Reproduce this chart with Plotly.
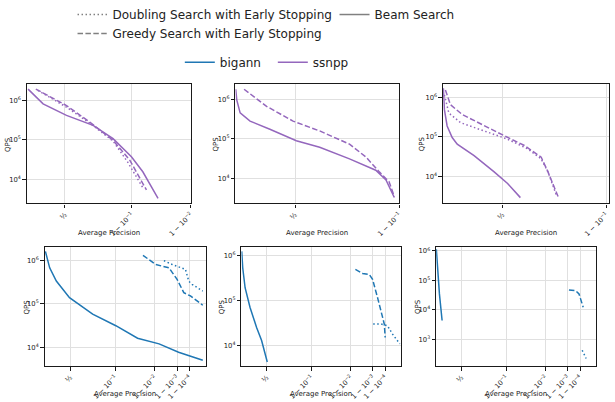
import numpy as np
import plotly.graph_objects as go

BLUE = "#1f77b4"
PURPLE = "#9467bd"
GRAY = "#808080"
FONT = "DejaVu Sans"
DASH = {"solid": "solid", "dash": "5.5px,2.4px", "dot": "1.5px,2.5px"}

# ---------------- data (average precision, QPS) ----------------
# top-left : ssnpp
tl_beam_p = [0.021, 0.245, 0.515, 0.726, 0.832, 0.899, 0.929, 0.958]
tl_beam_q = [1.91e6, 8.1e5, 4.15e5, 2.33e5, 1.08e5, 3.76e4, 1.58e4, 3.4e3]
tl_greedy_p = [0.142, 0.515, 0.704, 0.832, 0.894, 0.937]
tl_greedy_q = [1.91e6, 7.37e5, 2.82e5, 9.8e4, 3.1e4, 5.5e3]
tl_doubling_p = [0.171, 0.515, 0.704, 0.832, 0.887, 0.929]
tl_doubling_q = [1.78e6, 6.7e5, 2.66e5, 9.4e4, 2.8e4, 6.3e3]

# top-middle : ssnpp
tm_beam_p = [0.0032, 0.0137, 0.049, 0.147, 0.320, 0.508, 0.639, 0.766, 0.847, 0.872, 0.890]
tm_beam_q = [1.77e6, 9.6e5, 4.5e5, 2.81e5, 1.75e5, 9.0e4, 6.17e4, 3.17e4, 1.64e4, 9.3e3, 3.4e3]
tm_greedy_p = [0.089, 0.293, 0.487, 0.639, 0.766, 0.820, 0.856, 0.879, 0.890]
tm_greedy_q = [1.77e6, 6.6e5, 2.81e5, 1.59e5, 7.4e4, 3.5e4, 1.49e4, 8.4e3, 3.6e3]

# top-right : ssnpp
tr_beam_p = [0.003, 0.014, 0.0425, 0.094, 0.143, 0.293, 0.445, 0.532, 0.605]
tr_beam_q = [1.67e6, 4.85e5, 1.89e5, 9.7e4, 6.6e4, 3.4e4, 1.33e4, 6.8e3, 3.0e3]
tr_greedy_p = [0.0246, 0.0765, 0.190, 0.373, 0.512, 0.626, 0.705, 0.733, 0.771]
tr_greedy_q = [1.5e6, 6.45e5, 3.66e5, 1.89e5, 1.07e5, 6.1e4, 3.1e4, 1.33e4, 3.2e3]
tr_doubling_p = [0.014, 0.060, 0.175, 0.373, 0.532, 0.643, 0.705, 0.733, 0.764]
tr_doubling_q = [1.14e6, 4.0e5, 2.28e5, 1.42e5, 8.8e4, 5.0e4, 2.8e4, 1.33e4, 3.6e3]

# bottom-left : bigann
bl_beam_p = [0.017, 0.118, 0.259, 0.488, 0.757, 0.903, 0.968, 0.993, 0.9992, 0.9999999]
bl_beam_q = [1.6e6, 6.7e5, 3.33e5, 1.39e5, 5.8e4, 3.16e4, 1.63e4, 1.21e4, 7.8e3, 5.1e3]
bl_greedy_p = [0.977, 0.9907, 0.9973, 0.99901, 0.99966, 0.99992, 0.9999999]
bl_greedy_q = [1.3e6, 8.0e5, 6.7e5, 3.64e5, 1.81e5, 1.52e5, 9.3e4]
bl_doubling_p = [0.99548, 0.99813, 0.99975, 0.99988, 0.99995, 0.9999999]
bl_doubling_q = [9.8e5, 8.0e5, 6.2e5, 3.3e5, 2.8e5, 1.97e5]

# bottom-middle : bigann
bm_beam_p = [0.0075, 0.032, 0.089, 0.199, 0.329, 0.417, 0.506]
bm_beam_q = [1.22e6, 5.3e5, 1.91e5, 6.95e4, 2.52e4, 1.29e4, 4.3e3]
bm_greedy_p = [0.99316, 0.99656, 0.99838, 0.99895, 0.99951, 0.99973, 0.99987, 0.999895]
bm_greedy_q = [4.85e5, 3.96e5, 3.77e5, 2.92e5, 1.15e5, 5.9e4, 3.0e4, 1.51e4]
bm_doubling_p = [0.99904, 0.99973, 0.999943, 0.99999, 0.99999999]
bm_doubling_q = [3.0e4, 3.0e4, 2.75e4, 1.81e4, 1.09e4]

# bottom-right : bigann
br_beam_p = [0.005, 0.0417, 0.0795, 0.141]
br_beam_q = [1.14e6, 1.64e5, 3.5e4, 4.4e3]
br_greedy_p = [0.99917, 0.99973, 0.99987, 0.999958]
br_greedy_q = [4.75e4, 4.5e4, 3.5e4, 1.23e4]
br_doubling_p = [0.999943, 0.999985]
br_doubling_q = [430, 226]

# tick positions / labels on the precision axis
x_tick_p = [0.5, 0.9, 0.99, 0.999, 0.9999]
x_tick_text = ["½", "1 − 10<sup>−1</sup>", "1 − 10<sup>−2</sup>",
               "1 − 10<sup>−3</sup>", "1 − 10<sup>−4</sup>"]
y_tick_vals = [1e3, 1e4, 1e5, 1e6]
y_tick_text = ["10<sup>3</sup>", "10<sup>4</sup>", "10<sup>5</sup>", "10<sup>6</sup>"]


def tx(p):
    """precision -> axis coordinate (stretches the region near 1)."""
    return 1.0 - (1.0 - np.asarray(p, dtype=float)) ** 0.25


W, H = 615, 402

panels = [
    dict(color=PURPLE, curves=[(tl_doubling_p, tl_doubling_q, "dot"), (tl_beam_p, tl_beam_q, "solid"),
                               (tl_greedy_p, tl_greedy_q, "dash")],
         xd=(27, 192), yd=(82, 202), xmax=0.99, yr=(3.4, 6.4), nt=3, qx=8),
    dict(color=PURPLE, curves=[(tm_beam_p, tm_beam_q, "solid"), (tm_greedy_p, tm_greedy_q, "dash")],
         xd=(237, 402), yd=(82, 202), xmax=0.9, yr=(3.38, 6.37), nt=2, qx=217),
    dict(color=PURPLE, curves=[(tr_doubling_p, tr_doubling_q, "dot"), (tr_beam_p, tr_beam_q, "solid"),
                               (tr_greedy_p, tr_greedy_q, "dash")],
         xd=(446, 613), yd=(82, 202), xmax=0.905, yr=(3.33, 6.32), nt=2, qx=425),
    dict(color=BLUE, curves=[(bl_doubling_p, bl_doubling_q, "dot"), (bl_beam_p, bl_beam_q, "solid"),
                             (bl_greedy_p, bl_greedy_q, "dash")],
         xd=(45, 207), yd=(246, 366), xmax=1.0, yr=(3.57, 6.3), nt=5, qx=27),
    dict(color=BLUE, curves=[(bm_doubling_p, bm_doubling_q, "dot"), (bm_beam_p, bm_beam_q, "solid"),
                             (bm_greedy_p, bm_greedy_q, "dash")],
         xd=(243, 404), yd=(246, 366), xmax=1.0, yr=(3.54, 6.18), nt=5, qx=223),
    dict(color=BLUE, curves=[(br_doubling_p, br_doubling_q, "dot"), (br_beam_p, br_beam_q, "solid"),
                             (br_greedy_p, br_greedy_q, "dash")],
         xd=(439, 600), yd=(246, 366), xmax=1.0, yr=(2.09, 6.13), nt=5, qx=420),
]

fig = go.Figure()
annotations = []
layout = {}

for i, pn in enumerate(panels, start=1):
    xa = "x" if i == 1 else f"x{i}"
    ya = "y" if i == 1 else f"y{i}"
    for p, q, dash in pn["curves"]:
        fig.add_trace(go.Scatter(x=tx(p), y=q, mode="lines", xaxis=xa, yaxis=ya,
                                 line=dict(color=pn["color"], width=1.5, dash=DASH[dash]),
                                 showlegend=False, hoverinfo="skip"))
    xdom = [pn["xd"][0] / W, pn["xd"][1] / W]
    ydom = [1 - pn["yd"][1] / H, 1 - pn["yd"][0] / H]
    common = dict(showline=True, mirror=True, linecolor="#1a1a1a", linewidth=1.2,
                  ticks="outside", ticklen=3.5, tickcolor="#1a1a1a", tickwidth=0.8,
                  showgrid=True, gridcolor="#e0e0e0", gridwidth=1, zeroline=False)
    layout["xaxis" if i == 1 else f"xaxis{i}"] = dict(
        domain=xdom, anchor=ya, range=[0, float(tx(pn["xmax"]))],
        tickmode="array", tickvals=list(tx(x_tick_p[:pn["nt"]])),
        ticktext=x_tick_text[:pn["nt"]], tickangle=-45,
        tickfont=dict(family=FONT, size=6.8, color="#222"), **common)
    layout["yaxis" if i == 1 else f"yaxis{i}"] = dict(
        domain=ydom, anchor=xa, type="log", range=list(pn["yr"]),
        tickmode="array", tickvals=y_tick_vals, ticktext=y_tick_text,
        tickfont=dict(family=FONT, size=6.8, color="#222"), **common)
    xc = (xdom[0] + xdom[1]) / 2
    ylab = 232 if pn["yd"][0] < 200 else 394
    annotations.append(dict(text="Average Precision", x=xc, y=1 - ylab / H, xref="paper", yref="paper",
                            showarrow=False, font=dict(family=FONT, size=7, color="#222"),
                            xanchor="center", yanchor="middle"))
    annotations.append(dict(text="QPS", x=pn["qx"] / W, y=(ydom[0] + ydom[1]) / 2, xref="paper",
                            yref="paper", showarrow=False, textangle=-90,
                            font=dict(family=FONT, size=7, color="#222"),
                            xanchor="center", yanchor="middle"))

# legend proxies
legend_styles = [("Doubling Search with Early Stopping", "dot"), ("Beam Search", "solid"),
                 ("Greedy Search with Early Stopping", "dash")]
for name, dash in legend_styles:
    fig.add_trace(go.Scatter(x=[None], y=[None], mode="lines", name=name, legend="legend",
                             line=dict(color=GRAY, width=1.5, dash=DASH[dash])))
for name, col in [("bigann", BLUE), ("ssnpp", PURPLE)]:
    fig.add_trace(go.Scatter(x=[None], y=[None], mode="lines", name=name, legend="legend2",
                             line=dict(color=col, width=1.5)))

fig.update_layout(
    width=W, height=H, margin=dict(l=0, r=0, t=0, b=0),
    paper_bgcolor="white", plot_bgcolor="white",
    font=dict(family=FONT, color="#222"),
    annotations=annotations,
    legend=dict(orientation="h", x=73 / W, y=1 + 3 / H, xanchor="left", yanchor="top",
                font=dict(family=FONT, size=12, color="#222"), entrywidth=217,
                bgcolor="rgba(0,0,0,0)", tracegroupgap=0, itemwidth=30),
    legend2=dict(orientation="h", x=181 / W, y=1 - 45 / H, xanchor="left", yanchor="top",
                 font=dict(family=FONT, size=12, color="#222"), entrywidth=48,
                 bgcolor="rgba(0,0,0,0)", itemwidth=30),
    **layout,
)

fig.write_html("out.html")
